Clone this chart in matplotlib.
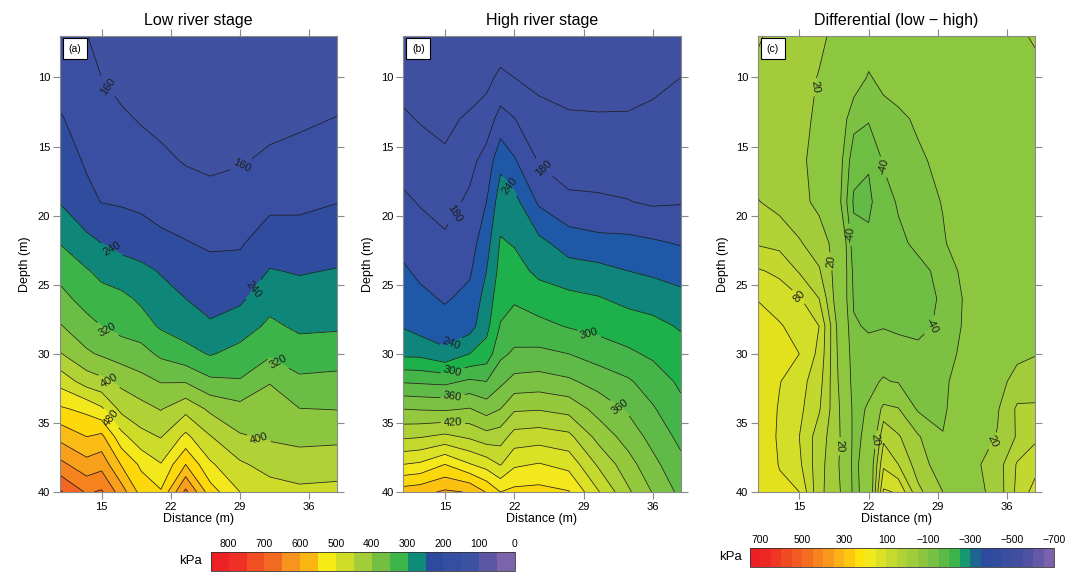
import numpy as np
import matplotlib
matplotlib.use('Agg')
import matplotlib.pyplot as plt
from matplotlib.colors import ListedColormap, BoundaryNorm
from matplotlib.cm import ScalarMappable

plt.rcParams['font.family'] = ['Liberation Sans', 'DejaVu Sans']
plt.rcParams['contour.negative_linestyle'] = 'solid'

##################################################################
# Data read off the sections (kPa), rows = depth, columns = distance

depth = [7, 10, 13, 16, 19, 22, 24, 26, 28, 30, 32, 34, 36, 38, 40]

# (a) low river stage
dist_low = [10.8, 13.5, 15, 17, 19, 21, 23.5, 26, 29, 32, 35, 38.8]
low_stage = [
    [172, 161, 148, 130, 122, 115, 112, 110, 112, 118, 122, 128],
    [186, 172, 160, 148, 140, 132, 128, 124, 128, 134, 140, 145],
    [203, 185, 178, 166, 157, 150, 144, 140, 144, 150, 155, 161],
    [220, 195, 190, 182, 176, 168, 157, 152, 157, 166, 170, 180],
    [238, 210, 199, 196, 192, 187, 180, 173, 177, 190, 192, 199],
    [279, 251, 240, 229, 220, 208, 202, 195, 196, 221, 217, 224],
    [306, 283, 270, 256, 250, 237, 222, 211, 213, 242, 237, 242],
    [334, 303, 294, 290, 273, 255, 240, 226, 233, 265, 255, 257],
    [363, 335, 320, 307, 297, 275, 262, 245, 260, 288, 273, 275],
    [403, 366, 355, 342, 335, 312, 293, 277, 294, 314, 298, 302],
    [466, 422, 410, 390, 372, 358, 357, 328, 323, 358, 328, 331],
    [526, 510, 487, 429, 414, 398, 428, 392, 374, 378, 361, 359],
    [588, 560, 570, 494, 452, 438, 490, 442, 404, 395, 388, 390],
    [651, 614, 626, 557, 512, 482, 560, 486, 446, 425, 420, 424],
    [725, 675, 685, 620, 545, 524, 650, 538, 480, 458, 448, 450],
]

# (b) high river stage, given column by column (one list per distance)
dist_high = [10.8, 12.5, 15, 17.5, 19.2, 20.6, 22, 24.5, 27.5, 30.5, 33.5, 36, 38.8]
high_cols = [
    [125, 140, 154, 169, 185, 202, 214, 226, 238, 263, 327, 390, 445, 510, 585],
    [118, 132, 148, 163, 178, 193, 204, 217, 228, 262, 325, 388, 448, 515, 590],
    [105, 120, 141, 156, 170, 185, 196, 207, 221, 247, 322, 386, 457, 540, 605],
    [112, 128, 156, 172, 185, 197, 206, 218, 228, 270, 335, 392, 445, 512, 598],
    [118, 140, 166, 190, 210, 228, 240, 252, 261, 283, 330, 377, 432, 497, 568],
    [125, 158, 190, 232, 256, 273, 280, 289, 302, 323, 353, 390, 436, 478, 540],
    [120, 150, 181, 213, 250, 268, 281, 296, 314, 335, 370, 416, 462, 505, 548],
    [118, 142, 160, 177, 205, 248, 263, 285, 308, 337, 373, 418, 466, 512, 550],
    [118, 136, 154, 168, 185, 227, 252, 278, 298, 330, 365, 410, 458, 500, 542],
    [120, 135, 153, 166, 184, 219, 249, 272, 291, 317, 348, 379, 410, 445, 482],
    [122, 137, 153, 166, 181, 218, 240, 262, 284, 305, 334, 356, 377, 402, 425],
    [128, 141, 158, 168, 176, 214, 235, 256, 279, 295, 315, 333, 350, 368, 388],
    [136, 150, 162, 170, 178, 208, 229, 248, 267, 282, 295, 307, 322, 338, 352],
]

# (c) differential (low - high)
dist_diff = [10.8, 13, 15, 17, 19, 20.5, 22, 23.5, 25, 27, 29.5, 32, 35, 37, 38.8]
diff_stage = [
    [42, 34, 28, 24, 14, 2, -8, -10, -10, -10, -9, -8, -4, 14, 24],
    [36, 31, 27, 19, 4, -8, -22, -14, -10, -8, -7, -6, -4, 0, 10],
    [32, 30, 26, 16, -5, -33, -38, -28, -24, -17, -10, -7, -5, -2, 2],
    [31, 28, 24, 13, -10, -52, -58, -38, -30, -23, -15, -8, -6, -4, -2],
    [41, 33, 26, 15, -14, -63, -64, -48, -38, -29, -19, -8, -6, -5, -4],
    [58, 54, 42, 30, 10, -52, -56, -50, -44, -36, -22, -8, -5, -4, -4],
    [82, 76, 58, 42, 8, -45, -52, -49, -46, -45, -35, -10, -5, -4, -4],
    [99, 90, 82, 60, 5, -42, -50, -49, -47, -46, -38, -15, -5, -4, -3],
    [110, 102, 92, 80, 12, -38, -42, -41, -43, -44, -37, -14, -4, -3, -2],
    [117, 106, 100, 75, 15, -33, -34, -30, -33, -36, -30, -12, 5, 15, 19],
    [118, 101, 88, 68, 18, -30, -25, -18, -22, -30, -25, -5, 12, 28, 30],
    [117, 98, 85, 62, 22, -26, -18, 28, 22, -25, -24, 0, 18, 43, 43],
    [115, 97, 80, 50, 24, -26, -14, 55, 42, 24, -19, 8, 21, 42, 56],
    [115, 99, 84, 48, 20, -27, -5, 76, 60, 30, 8, 12, 30, 62, 72],
    [116, 104, 100, 45, 25, -26, -10, 103, 98, 45, 20, 8, 28, 65, 88],
]

##################################################################
# Contour levels and band colours

low_levels = [100, 160, 200, 240, 280, 320, 360, 400, 440, 480, 520, 560,
              600, 640, 680, 720, 800]
low_colors = ['#4151a1', '#3b4fa2', '#2f4c9f', '#0e8679', '#3cb44a', '#6abd45',
              '#8cc63f', '#b0d236', '#cddc29', '#f2e81b', '#fdd80b', '#fbbd15',
              '#f8a01c', '#f5841f', '#f26522', '#ef4a24']

high_levels = [90, 150, 180, 210, 240, 270, 300, 330, 360, 390, 420, 450, 480,
               510, 540, 570, 600, 640]
high_colors = ['#4050a1', '#3e50a2', '#3a4ea2', '#1f58a7', '#0f857b', '#1db04b',
               '#45b549', '#5fba47', '#7bc143', '#94c93d', '#acd037', '#c4d92e',
               '#dbe226', '#f2e81b', '#fbd80c', '#fbc011', '#f8a41b']

diff_levels = [-80, -60, -40, -20, 20, 40, 60, 80, 100, 140]
diff_colors = ['#63ba46', '#6fbe44', '#7cc142', '#8dc63f', '#a2cc3a', '#b2d235',
               '#c3d82e', '#d2de27', '#e2e11c']

# legend boxes, listed from the lowest value up
bar1_colors = ['#7c64ac', '#5d56a5', '#3d51a2', '#344fa1', '#2c4b9e', '#0f8c79',
               '#3db54a', '#72bf44', '#a3cd39', '#cfdd28', '#f6eb14', '#fcb614',
               '#f7941d', '#f26a21', '#f04e23', '#ee3124', '#ed2024']
bar2_colors = ['#7b63ab', '#6459a6', '#4f52a3', '#424fa1', '#3a4da1', '#324c9f',
               '#2d4a9e', '#1d6690', '#14986f', '#3bb44a', '#5cb946', '#77c043',
               '#8cc63f', '#9fcc3a', '#b1d235', '#c6d92d', '#dbe125', '#f1e91d',
               '#fde30a', '#fdc80d', '#fbb118', '#f8991d', '#f6841f', '#f46e21',
               '#f25c22', '#f04a23', '#ef3824', '#ee2724', '#ed1f24']

##################################################################
# Figure

W, H = 1073, 572
fig = plt.figure(figsize=(W / 100, H / 100), dpi=100)


def px_box(left, top, right, bottom):
    return [left / W, 1 - bottom / H, (right - left) / W, (bottom - top) / H]


def style_axes(ax, title, tag):
    ax.set_xlim(10.8, 38.8)
    ax.set_ylim(40, 7)
    ax.set_xticks([15, 22, 29, 36])
    ax.set_yticks([10, 15, 20, 25, 30, 35, 40])
    ax.tick_params(direction='out', length=5, width=0.8, color='#8a8a8a',
                   labelsize=8, top=True, right=True, labeltop=False,
                   labelright=False, pad=2)
    for s in ax.spines.values():
        s.set_color('#8a8a8a')
        s.set_linewidth(0.8)
    ax.set_xlabel('Distance (m)', fontsize=9, labelpad=1)
    ax.set_ylabel('Depth (m)', fontsize=9, labelpad=5)
    ax.set_title(title, fontsize=11.5, pad=8)
    ax.text(0.054, 0.972, tag, transform=ax.transAxes, fontsize=7.5,
            ha='center', va='center',
            bbox=dict(boxstyle='square,pad=0.55', fc='white', ec='black', lw=0.8))


def draw_panel(ax, x, z, levels, colors, label_levels, label_pos):
    ax.contourf(x, depth, z, levels=levels, colors=colors)
    plain = [lv for lv in levels[1:-1] if lv not in label_levels]
    ax.contour(x, depth, z, levels=plain, colors='#1e1e1e', linewidths=0.55)
    cs = ax.contour(x, depth, z, levels=sorted(label_levels),
                    colors='#1e1e1e', linewidths=0.55)
    ax.clabel(cs, manual=label_pos, inline=True, fontsize=8, fmt='%d',
              inline_spacing=3)


ax_a = fig.add_axes(px_box(60, 36, 337, 492))
draw_panel(ax_a, dist_low, np.array(low_stage), low_levels, low_colors,
           [160, 240, 320, 400, 480],
           [(15.5, 10.7), (29.3, 16.5), (16.0, 22.5), (30.3, 25.3),
            (15.5, 28.4), (32.7, 30.8), (15.9, 31.8), (30.8, 36.4),
            (15.9, 34.7)])
style_axes(ax_a, 'Low river stage', '(a)')

ax_b = fig.add_axes(px_box(403.3, 36, 680.7, 492))
draw_panel(ax_b, dist_high, np.array(high_cols).T, high_levels, high_colors,
           [180, 240, 300, 360, 420],
           [(16.2, 19.9), (24.8, 16.7), (21.8, 17.7), (15.8, 29.5),
            (15.8, 31.3), (29.5, 28.7), (15.8, 33.2), (32.7, 33.9),
            (15.8, 35.1)])
style_axes(ax_b, 'High river stage', '(b)')

ax_c = fig.add_axes(px_box(757.7, 36, 1035, 492))
draw_panel(ax_c, dist_diff, np.array(diff_stage), diff_levels, diff_colors,
           [-40, 20, 80],
           [(16.6, 10.7), (18.3, 23.3), (19.4, 36.7), (22.5, 36.2),
            (34.8, 36.4), (23.3, 16.5), (19.8, 21.4), (29.1, 28.4),
            (15.3, 25.6)])
style_axes(ax_c, 'Differential (low \u2212 high)', '(c)')

##################################################################
# Colour legends under the panels


def legend_bar(box, colors, lo, hi, ticks, kpa_xy):
    cax = fig.add_axes(box)
    bounds = np.arange(lo, hi + 1, 50)
    sm = ScalarMappable(norm=BoundaryNorm(bounds, len(colors)),
                        cmap=ListedColormap(colors))
    cb = fig.colorbar(sm, cax=cax, orientation='horizontal', drawedges=True,
                      ticks=ticks)
    cb.minorticks_off()
    cb.dividers.set_color('#333333')
    cb.dividers.set_linewidth(0.6)
    cb.outline.set_edgecolor('#333333')
    cb.outline.set_linewidth(0.6)
    cax.invert_xaxis()
    cax.xaxis.set_ticks_position('top')
    cax.tick_params(which='both', length=0, labelsize=7.5, pad=2)
    fig.text(kpa_xy[0] / W, 1 - kpa_xy[1] / H, 'kPa', fontsize=9.5,
             ha='center', va='center')


legend_bar(px_box(210.7, 551.7, 515, 571), bar1_colors, 0, 850,
           [0, 100, 200, 300, 400, 500, 600, 700, 800], (191, 561))
legend_bar(px_box(750, 547.5, 1054.3, 567.3), bar2_colors, -700, 750,
           [-700, -500, -300, -100, 100, 300, 500, 700], (731, 557.5))

fig.savefig('out.png', dpi=100)
